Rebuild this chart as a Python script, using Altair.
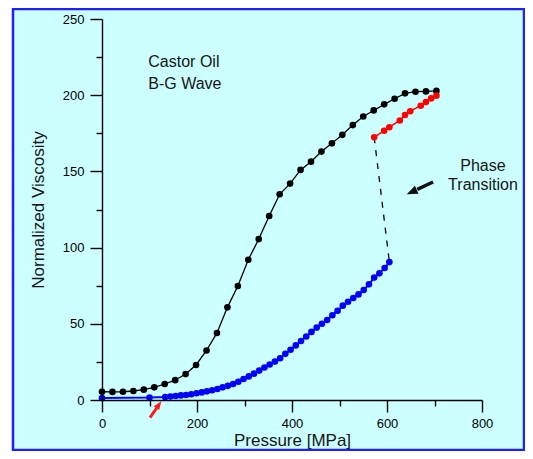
import altair as alt
import pandas as pd

# ---------------- data ----------------
black_p = [0, 22, 44, 66, 88, 110, 132, 154, 176, 198, 220, 242, 264, 286, 308, 330,
           352, 374, 396, 418, 440, 462, 484, 506, 528, 550, 572, 594, 616, 638, 660, 682, 704]
black_v = [5.4, 5.3, 5.4, 5.9, 6.8, 8.3, 10.5, 13.0, 17.0, 23.0, 32.5, 44.0, 60.8, 74.8, 92.0, 105.6,
           120.7, 135.0, 142.0, 151.0, 156.4, 163.0, 168.4, 174.0, 180.4, 186.0, 190.0, 194.0, 197.7,
           201.2, 202.3, 202.5, 202.8]

blue_p = [0, 100, 133, 144, 155, 166, 177, 188, 199, 210, 221, 232, 243, 254, 265, 276, 287, 298,
          309, 320, 331, 342, 353, 364, 375, 386, 397, 408, 419, 430, 441, 452, 463, 474, 485, 496,
          507, 518, 529, 540, 551, 562, 573, 584, 595, 605]
blue_v = [1.3, 1.6, 2.0, 2.3, 2.6, 3.0, 3.3, 3.8, 4.4, 5.0, 5.7, 6.4, 7.2, 8.3, 9.3, 10.5, 12.0, 13.8,
          15.5, 17.3, 19.3, 21.3, 23.3, 25.2, 27.4, 30.3, 33.0, 35.8, 38.7, 41.7, 44.7, 47.5, 50.0, 52.5,
          55.6, 58.6, 61.9, 64.5, 66.9, 69.3, 72.2, 75.9, 80.3, 83.1, 86.6, 90.5]

red_p = [573, 594, 605, 627, 638, 649, 671, 682, 693, 704]
red_v = [172.4, 176.7, 179.0, 183.4, 187.0, 189.5, 193.1, 195.5, 197.9, 199.7]

x_ticks_major = [0, 200, 400, 600, 800]
x_ticks_minor = [100, 300, 500, 700]
y_ticks_major = [0, 50, 100, 150, 200, 250]
y_ticks_minor = [25, 75, 125, 175, 225]

# annotations
arrow_color = ["#FF1A1A", "#111111"]
arrow_tail_p = [101.0, 697.0]
arrow_tail_v = [-11.5, 143.0]
arrow_head_p = [125.0, 641.5]
arrow_head_v = [-0.9, 135.0]
arrow_angle = [36, 246]
arrow_width = [3.0, 3.4]
arrow_head_size = [70, 120]

label1_text = ["Castor Oil", "B-G Wave"]
label1_p = [97.5, 97.5]
label1_v = [222.0, 207.5]
label2_text = ["Phase", "Transition"]
label2_p = [802.0, 802.0]
label2_v = [153.5, 141.1]

FONT = "Liberation Sans"
TXT = "#151515"

# ---------------- tables ----------------
black_df = pd.DataFrame({"p": black_p, "v": black_v})
blue_df = pd.DataFrame({"p": blue_p, "v": blue_v})
red_df = pd.DataFrame({"p": red_p, "v": red_v})
dash_df = pd.DataFrame({"p": [red_p[0], blue_p[-1]], "v": [red_v[0], blue_v[-1]]})
shaft_df = pd.DataFrame({
    "p": arrow_tail_p, "v": arrow_tail_v,
    "p2": [t + 0.6 * (h - t) for t, h in zip(arrow_tail_p, arrow_head_p)],
    "v2": [t + 0.6 * (h - t) for t, h in zip(arrow_tail_v, arrow_head_v)],
    "c": arrow_color, "w": arrow_width,
})
head_df = pd.DataFrame({"p": arrow_head_p, "v": arrow_head_v, "c": arrow_color,
                        "a": arrow_angle, "s": arrow_head_size})
lab1_df = pd.DataFrame({"p": label1_p, "v": label1_v, "t": label1_text})
lab2_df = pd.DataFrame({"p": label2_p, "v": label2_v, "t": label2_text})

xs = alt.Scale(domain=[0, 800], nice=False, zero=False)
ys = alt.Scale(domain=[0, 250], nice=False, zero=False)

common_axis = dict(tickColor="black", tickWidth=1.4, domainColor="black", domainWidth=1.4,
                   grid=False, zindex=1)

x_main = alt.Axis(orient="bottom", values=x_ticks_major, tickSize=12, labelFont=FONT,
                  labelFontSize=13, labelColor="black", labelPadding=5, labelFlush=False,
                  labelOverlap=False, title="Pressure [MPa]", titleFont=FONT, titleFontSize=17,
                  titleFontWeight="normal", titleColor=TXT, titlePadding=2, **common_axis)
y_main = alt.Axis(orient="left", values=y_ticks_major, tickSize=12, labelFont=FONT,
                  labelFontSize=13, labelColor="black", labelPadding=6, labelFlush=False,
                  labelOverlap=False, title="Normalized Viscosity", titleFont=FONT,
                  titleFontSize=17, titleFontWeight="normal", titleColor=TXT, titlePadding=15,
                  **common_axis)
x_minor = alt.Axis(orient="bottom", values=x_ticks_minor, tickSize=6, labels=False,
                   domain=False, title=None, tickColor="black", tickWidth=1.4, grid=False,
                   zindex=1)
y_minor = alt.Axis(orient="left", values=y_ticks_minor, tickSize=6, labels=False,
                   domain=False, title=None, tickColor="black", tickWidth=1.4, grid=False,
                   zindex=1)


def X(axis=None, field="p"):
    return alt.X(f"{field}:Q", scale=xs, axis=axis)


def Y(axis=None, field="v"):
    return alt.Y(f"{field}:Q", scale=ys, axis=axis)


frame = alt.Chart(pd.DataFrame({"k": [0]})).mark_rect(
    fill="#CCFFFF", stroke="#2020FF", strokeWidth=2.5
).encode(x=alt.value(-89), x2=alt.value(422), y=alt.value(-10), y2=alt.value(431))

minor = alt.Chart(black_df).mark_point(opacity=0).encode(x=X(x_minor), y=Y(y_minor))

black_line = alt.Chart(black_df).mark_line(color="black", strokeWidth=1.3).encode(x=X(), y=Y())
black_pts = alt.Chart(black_df).mark_circle(color="black", size=44, opacity=1).encode(
    x=X(x_main), y=Y(y_main))

blue_line = alt.Chart(blue_df).mark_line(color="#0000FF", strokeWidth=2).encode(x=X(), y=Y())
blue_pts = alt.Chart(blue_df).mark_circle(color="#0000FF", size=44, opacity=1).encode(x=X(), y=Y())

red_line = alt.Chart(red_df).mark_line(color="#FF0000", strokeWidth=1.5).encode(x=X(), y=Y())
red_pts = alt.Chart(red_df).mark_circle(color="#FF0000", size=44, opacity=1).encode(x=X(), y=Y())

dash = alt.Chart(dash_df).mark_line(color="black", strokeWidth=1.3, strokeDash=[6, 7]).encode(
    x=X(), y=Y())

shafts = alt.Chart(shaft_df).mark_rule().encode(
    x=X(), y=Y(), x2="p2:Q", y2="v2:Q",
    color=alt.Color("c:N", scale=None), strokeWidth=alt.StrokeWidth("w:Q", scale=None))
heads = alt.Chart(head_df).mark_point(shape="M0,0L-0.8,2L0.8,2Z", filled=True, opacity=1,
                                      strokeWidth=0).encode(
    x=X(), y=Y(), color=alt.Color("c:N", scale=None), angle=alt.Angle("a:Q", scale=None),
    size=alt.Size("s:Q", scale=None))

lab1 = alt.Chart(lab1_df).mark_text(font=FONT, fontSize=16, color=TXT, align="left",
                                    baseline="middle").encode(x=X(), y=Y(), text="t:N")
lab2 = alt.Chart(lab2_df).mark_text(font=FONT, fontSize=16, color=TXT, align="center",
                                    baseline="middle").encode(x=X(), y=Y(), text="t:N")

chart = alt.layer(
    frame, minor, blue_line, black_line, red_line, dash, blue_pts, black_pts, red_pts,
    shafts, heads, lab1, lab2
).resolve_axis(x="independent", y="independent").properties(
    width=380, height=381,
    padding={"left": 94, "top": 11, "right": 43, "bottom": 51},
    autosize=alt.AutoSizeParams(type="none"),
    background="white",
).configure_view(stroke="transparent")

chart.save("out.html", embed_options={"renderer": "svg", "actions": False})
